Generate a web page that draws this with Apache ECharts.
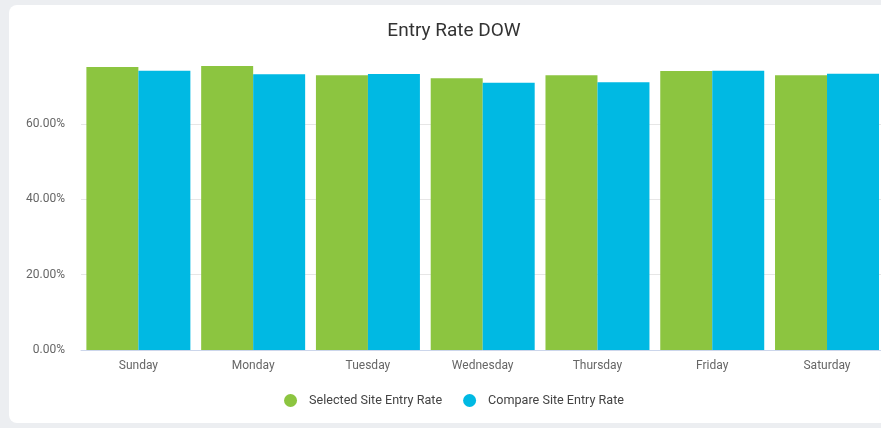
<!DOCTYPE html>
<html><head><meta charset="utf-8">
<script src="https://cdn.jsdelivr.net/npm/echarts@6/dist/echarts.min.js"></script>
<style>
html,body{margin:0;padding:0;width:881px;height:428px;overflow:hidden;background:#eceef1;}
#card{position:absolute;left:9px;top:5px;width:900px;height:418px;background:#fff;border-radius:8px;}
#chart{position:absolute;left:0;top:0;width:890px;height:418px;}
</style></head>
<body><div id="card"><div id="chart"></div></div>
<script>
const title = 'Entry Rate DOW';
const categories = ['Sunday','Monday','Tuesday','Wednesday','Thursday','Friday','Saturday'];
const seriesNames = ['Selected Site Entry Rate','Compare Site Entry Rate'];
const selectedRate = [75.13, 75.4, 72.92, 72.12, 72.92, 74.07, 72.92];
const compareRate = [74.15, 73.19, 73.27, 70.96, 71.06, 74.15, 73.35];
const colors = ['#8cc540', '#00b9e3'];

const chart = echarts.init(document.getElementById('chart'));
chart.setOption({
  animation:false,
  textStyle:{fontFamily:'Roboto'},
  title:{text:title,left:'center',top:12,textStyle:{fontSize:19,fontWeight:'normal',color:'#333',fontFamily:'Roboto'}},
  legend:{bottom:11,left:'center',icon:'circle',itemWidth:27,itemHeight:13,itemGap:21,
    textStyle:{fontSize:12.6,color:'#444',fontFamily:'Roboto'},data:seriesNames},
  grid:{left:72,right:14.6,top:61,bottom:73,containLabel:false},
  xAxis:{type:'category',data:categories,
    axisLine:{lineStyle:{color:'#ccd6eb'}},axisTick:{show:false},
    axisLabel:{color:'#666',fontSize:12,margin:10,fontFamily:'Roboto'}},
  yAxis:{type:'value',min:0,max:'dataMax',interval:20,
    axisLine:{show:false},axisTick:{show:false},
    axisLabel:{color:'#666',fontSize:12,margin:16,showMaxLabel:false,
      formatter:v=>v.toFixed(2)+'%'},
    splitLine:{lineStyle:{color:['#e6e6e6','#e6e6e6','#e6e6e6','#e6e6e6','rgba(0,0,0,0)']}}},
  series:[
    {name:seriesNames[0],type:'bar',data:selectedRate,itemStyle:{color:colors[0]},barGap:'0%',barCategoryGap:'9.4%'},
    {name:seriesNames[1],type:'bar',data:compareRate,itemStyle:{color:colors[1]},barGap:'0%',barCategoryGap:'9.4%'}
  ]
});
</script></body></html>
